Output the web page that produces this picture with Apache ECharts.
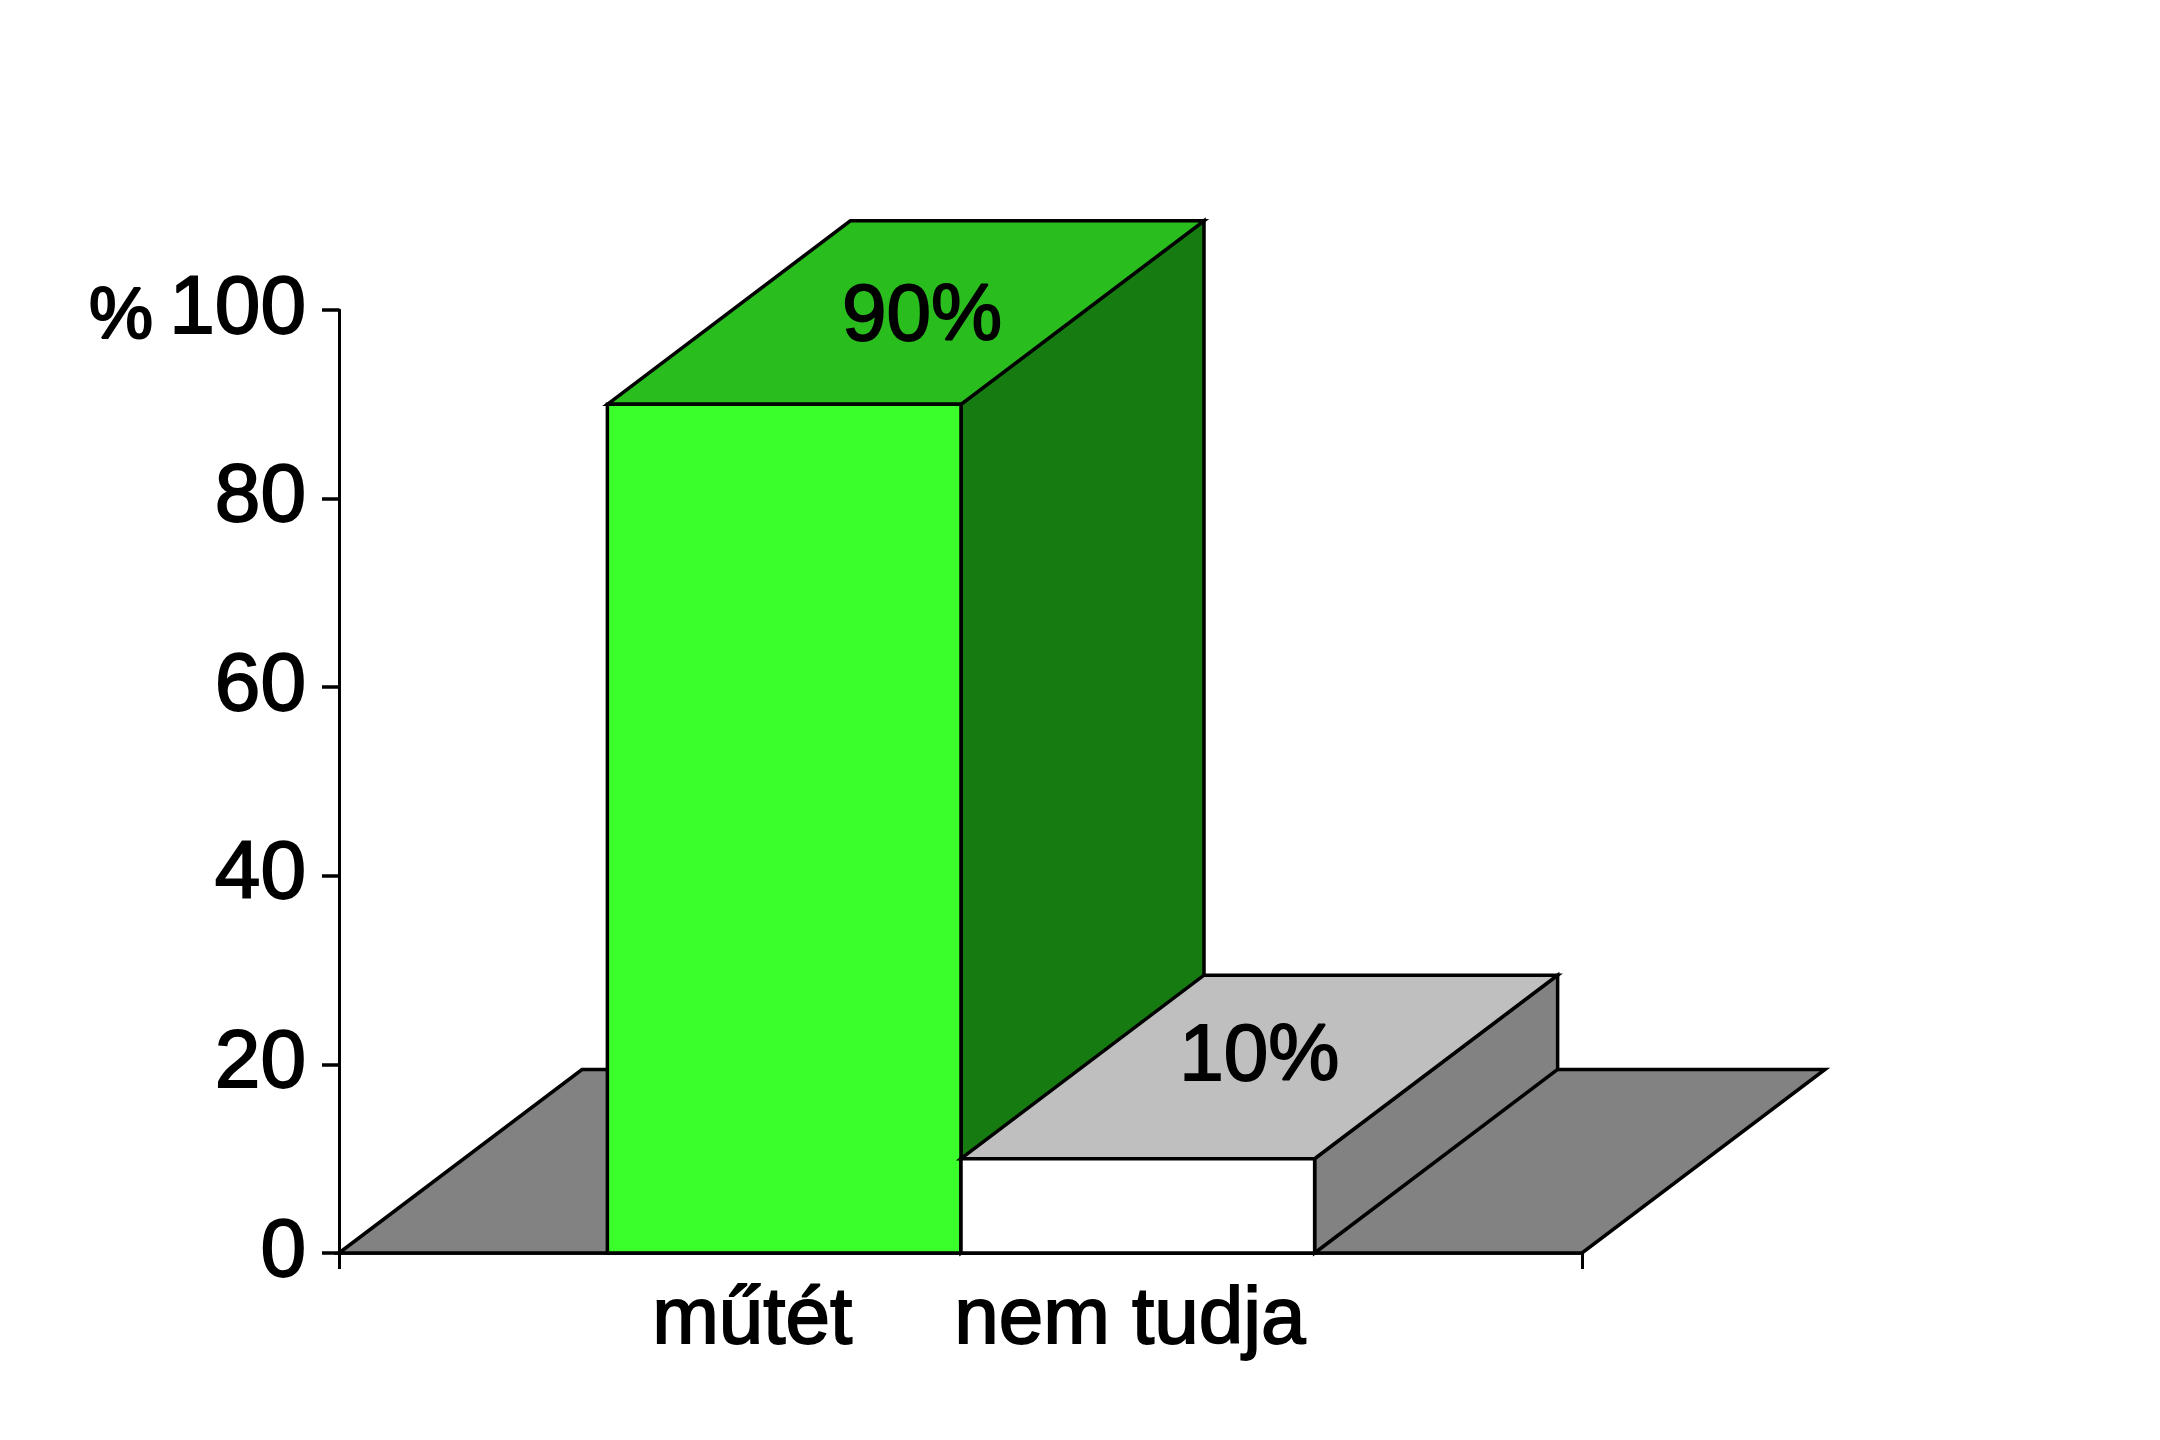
<!DOCTYPE html>
<html><head><meta charset="utf-8">
<style>html,body{margin:0;padding:0;background:#fff}#c{width:2160px;height:1440px}</style>
<script src="https://cdn.jsdelivr.net/npm/echarts@6/dist/echarts.min.js"></script>
</head><body><div id="c"></div>
<script>
const categories = ['műtét', 'nem tudja'];
const values = [90, 10];
const yTicks = [0, 20, 40, 60, 80, 100];
const FONT = '"Liberation Sans"';
const DX = 243, DY = 183.5, BAR_SHARE = 0.2845, CLUSTER_SHIFT = 0.5;
const LINE = {stroke: '#000', lineWidth: 3.5, lineJoin: 'miter'};
const faces = [
  {front: '#3AFF2A', top: '#2ABD1E', side: '#167B10'},
  {front: '#FFFFFF', top: '#BFBFBF', side: '#828282'}
];
const labelOffsetX = [-32, -8];
const valueOffset = [[16.5, 5], [0, -9]];
const poly = (points, fill) => ({type: 'polygon', shape: {points}, style: {fill, ...LINE}});
const txt = (x, y, text) => ({type: 'text', x, y, style: {text, fill: '#000', stroke: '#000', lineWidth: 1.8, font: '80px ' + FONT, align: 'center', verticalAlign: 'middle'}});

function renderFloor(params, api) {
  const c = api.coord([0, 0]);
  const w = api.size([1, 0])[0];
  const l = c[0] - w / 2, r = c[0] + w / 2, y = c[1];
  return poly([[l, y], [l + DX, y - DY], [r + DX, y - DY], [r, y]], '#828282');
}
function renderBar(params, api) {
  const i = params.dataIndex, v = api.value(1);
  const c = api.coord([0, 0]), t = api.coord([0, v]);
  const w = api.size([1, 0])[0] * BAR_SHARE;
  const l = c[0] + CLUSTER_SHIFT + (i - 1) * w, r = l + w, y0 = c[1], y1 = t[1];
  const f = faces[i];
  return {type: 'group', children: [
    poly([[r, y0], [r + DX, y0 - DY], [r + DX, y1 - DY], [r, y1]], f.side),
    poly([[l, y1], [l + DX, y1 - DY], [r + DX, y1 - DY], [r, y1]], f.top),
    poly([[l, y0], [l, y1], [r, y1], [r, y0]], f.front),
    txt((l + r) / 2 + DX / 2 + valueOffset[i][0], y1 - DY / 2 + valueOffset[i][1], v + '%'),
    txt((l + r) / 2 + labelOffsetX[i], y0 + 68, categories[i])
  ]};
}
const chart = echarts.init(document.getElementById('c'), null, {renderer: 'canvas', width: 2160, height: 1440});
chart.setOption({
  animation: false,
  backgroundColor: '#fff',
  grid: {left: 339, right: 578, top: 310, bottom: 187},
  xAxis: {type: 'category', data: [''],
    axisLine: {lineStyle: {color: '#000', width: 3.5}},
    axisTick: {show: true, length: 16, lineStyle: {color: '#000', width: 3}},
    axisLabel: {show: false}},
  yAxis: {type: 'value', min: 0, max: 100, interval: 20,
    axisLine: {show: true, lineStyle: {color: '#000', width: 3}},
    axisTick: {show: true, length: 17, lineStyle: {color: '#000', width: 3.5}},
    splitLine: {show: false},
    axisLabel: {margin: 33, color: '#000', fontFamily: FONT, fontSize: 82, textBorderColor: '#000', textBorderWidth: 1.8,
      formatter: v => yTicks.includes(v) ? String(v) : ''}},
  graphic: [{type: 'text', left: 88, top: 281, style: {text: '%', fill: '#000', stroke: '#000', lineWidth: 2.2, font: '72px ' + FONT}}],
  series: [
    {type: 'custom', coordinateSystem: 'cartesian2d', clip: false, data: [[0, 0]], renderItem: renderFloor, z: 2},
    {type: 'custom', coordinateSystem: 'cartesian2d', clip: false, data: values.map(v => [0, v]), renderItem: renderBar, z: 3}
  ]
});
</script></body></html>
